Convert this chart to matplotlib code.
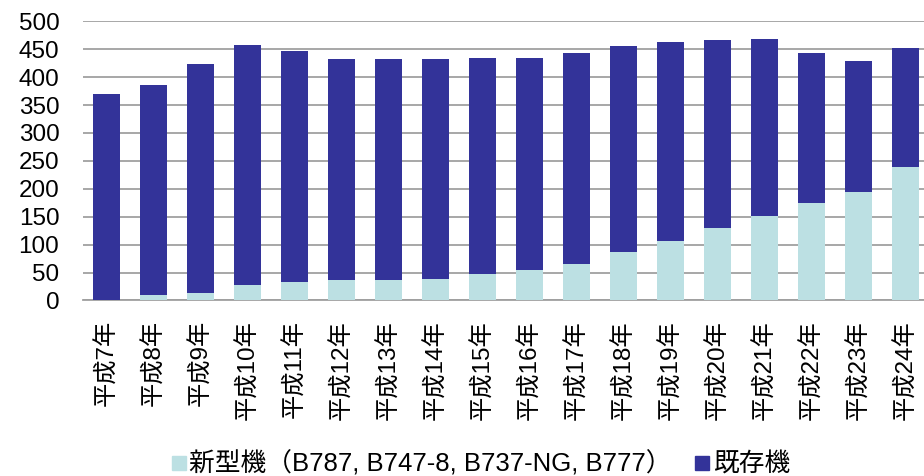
import matplotlib
matplotlib.use("Agg")
import matplotlib.pyplot as plt
from matplotlib.lines import Line2D
import numpy as np

plt.rcParams['font.family'] = ['Liberation Sans', 'Noto Sans CJK JP', 'DejaVu Sans']

years = ['平成7年', '平成8年', '平成9年', '平成10年', '平成11年', '平成12年',
         '平成13年', '平成14年', '平成15年', '平成16年', '平成17年', '平成18年',
         '平成19年', '平成20年', '平成21年', '平成22年', '平成23年', '平成24年']
new_type = [0, 9, 14, 27, 33, 36, 36, 39, 47, 55, 66, 87, 107, 129, 151, 175, 194, 239]
existing = [370, 376, 409, 430, 413, 396, 396, 393, 388, 379, 378, 369, 356, 337, 317, 269, 235, 214]
yticks = [0, 50, 100, 150, 200, 250, 300, 350, 400, 450, 500]

light = '#bce0e3'
dark = '#333399'
grid_col = '#a0a0a0'

fig = plt.figure(figsize=(9.24, 4.76), dpi=100)
ax = fig.add_axes([0.0898, 0.3687, 0.9156, 0.5866])

x = np.arange(len(years))
ax.bar(x, new_type, width=0.575, color=light, zorder=3)
ax.bar(x, existing, width=0.575, bottom=new_type, color=dark, zorder=3)

ax.set_xlim(-0.5, len(years) - 0.5)
ax.set_ylim(0, 500)
ax.set_yticks(yticks)
ax.set_xticks(x)
ax.set_xticklabels(years, rotation=90, fontsize=17.5)
ax.tick_params(axis='y', length=0, pad=17, labelsize=17.5)
ax.tick_params(axis='x', length=0, pad=14)
ax.yaxis.grid(True, color=grid_col, linewidth=1.3, zorder=0)
ax.set_axisbelow(True)
for s in ['left', 'right', 'top']:
    ax.spines[s].set_visible(False)
ax.spines['bottom'].set_color(grid_col)
ax.spines['bottom'].set_linewidth(1.3)

handles = [Line2D([], [], marker='s', linestyle='none', markersize=10, color=light),
           Line2D([], [], marker='s', linestyle='none', markersize=10, color=dark)]
labels = ['新型機（B787, B747-8, B737-NG, B777）', '既存機']
fig.legend(handles, labels, loc='center', bbox_to_anchor=(0.52, 0.025), ncol=2,
           frameon=False, fontsize=18.5, handlelength=0.6, handletextpad=0.1,
           columnspacing=0.9, borderaxespad=0)

fig.savefig('out.png', dpi=100)
